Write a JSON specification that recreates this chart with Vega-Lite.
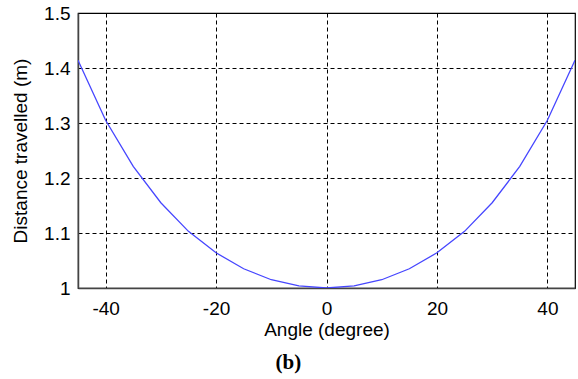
{
  "$schema": "https://vega.github.io/schema/vega-lite/v6.json",
  "width": 497,
  "height": 275,
  "autosize": "none",
  "padding": {"left": 78, "top": 13, "right": 3, "bottom": 91},
  "background": "white",
  "title": {"text": "(b)", "orient": "bottom", "frame": "bounds", "anchor": "middle", "dx": -5, "font": "Liberation Serif", "fontSize": 21, "fontWeight": "bold", "color": "black", "offset": 13},
  "data": {"values": [
    {"angle": -45, "distance": 1.414},
    {"angle": -40, "distance": 1.305},
    {"angle": -35, "distance": 1.221},
    {"angle": -30, "distance": 1.155},
    {"angle": -25, "distance": 1.103},
    {"angle": -20, "distance": 1.064},
    {"angle": -15, "distance": 1.035},
    {"angle": -10, "distance": 1.015},
    {"angle": -5, "distance": 1.004},
    {"angle": 0, "distance": 1.0},
    {"angle": 5, "distance": 1.004},
    {"angle": 10, "distance": 1.015},
    {"angle": 15, "distance": 1.035},
    {"angle": 20, "distance": 1.064},
    {"angle": 25, "distance": 1.103},
    {"angle": 30, "distance": 1.155},
    {"angle": 35, "distance": 1.221},
    {"angle": 40, "distance": 1.305},
    {"angle": 45, "distance": 1.414}
  ]},
  "mark": {"type": "line", "color": "#4646ff", "strokeWidth": 1.3, "clip": true},
  "encoding": {
    "x": {"field": "angle", "type": "quantitative", "title": "Angle (degree)",
      "scale": {"domain": [-45, 45], "nice": false},
      "axis": {"values": [-40, -20, 0, 20, 40], "labelExpr": "datum.value < 0 ? '-' + abs(datum.value) : '' + datum.value"}},
    "y": {"field": "distance", "type": "quantitative", "title": "Distance travelled (m)",
      "scale": {"domain": [1, 1.5], "nice": false, "zero": false},
      "axis": {"values": [1, 1.1, 1.2, 1.3, 1.4, 1.5], "format": "~f"}}
  },
  "config": {
    "view": {"stroke": "black", "strokeWidth": 1.2},
    "axis": {
      "grid": true, "gridColor": "black", "gridDash": [4, 3], "gridOpacity": 1, "gridWidth": 1,
      "domainColor": "#444", "domainWidth": 1.5,
      "ticks": false,
      "labelFont": "Liberation Sans", "labelFontSize": 19, "labelColor": "black",
      "titleFont": "Liberation Sans", "titleFontSize": 19, "titleFontWeight": "normal", "titleColor": "black"
    },
    "axisX": {"labelPadding": 11, "titlePadding": 2},
    "axisY": {"labelPadding": 8, "titlePadding": 13}
  }
}
